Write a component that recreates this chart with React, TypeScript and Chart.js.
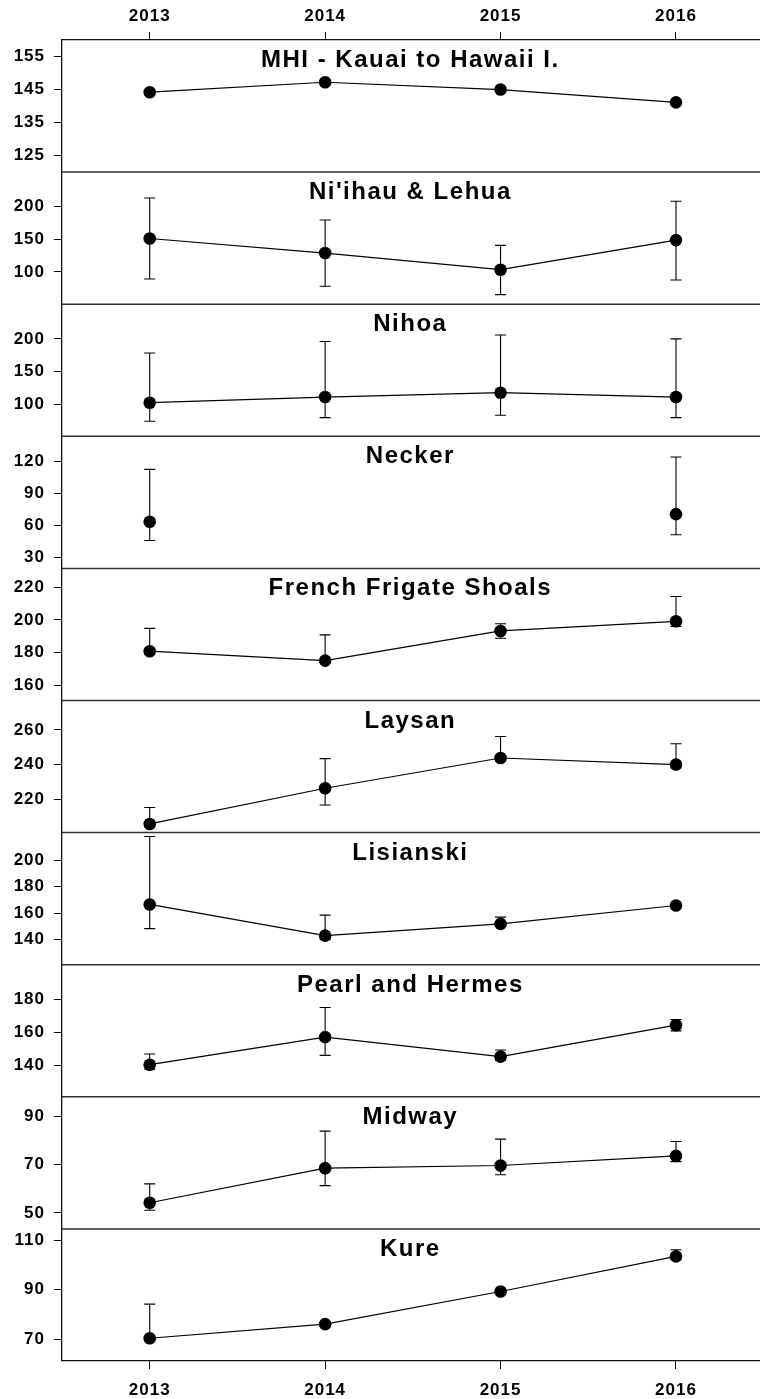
import React, { useEffect, useRef } from 'react';
import { Chart, registerables } from 'chart.js';
Chart.register(...registerables);

const years = [2013, 2014, 2015, 2016];
const yearTicks = [2013, 2014, 2015, 2016];
const panelTitles = [
  'MHI - Kauai to Hawaii I.',
  "Ni'ihau & Lehua",
  'Nihoa',
  'Necker',
  'French Frigate Shoals',
  'Laysan',
  'Lisianski',
  'Pearl and Hermes',
  'Midway',
  'Kure',
];

const mhiMean = [144.2, 147.2, 145.0, 141.1];
const mhiHigh = [null, null, null, null];
const mhiLow = [null, null, null, null];
const niihauMean = [151, 128.8, 103.5, 148.5];
const niihauHigh = [212.6, 179.2, 140.5, 207.6];
const niihauLow = [89.4, 78.3, 65.6, 87.9];
const nihoaMean = [102.4, 111, 117.7, 111];
const nihoaHigh = [178.4, 196, 206, 200];
const nihoaLow = [74, 79.6, 83.2, 79.6];
const neckerMean = [63.4, null, null, 70.5];
const neckerHigh = [112.2, null, null, 123.7];
const neckerLow = [46, null, null, 51.3];
const ffsMean = [180.9, 175.1, 193.3, 199.2];
const ffsHigh = [194.9, 190.9, 197.7, 214.4];
const ffsLow = [179, 174, 188.8, 196];
const laysanMean = [205.7, 226.3, 243.8, 240];
const laysanHigh = [215.2, 243.4, 256.2, 252];
const laysanLow = [204, 216.6, 242, 238];
const lisianskiMean = [166.6, 143, 151.9, 165.8];
const lisianskiHigh = [218, 158.5, 157, null];
const lisianskiLow = [148.3, 140, 150, null];
const pearlMean = [140.4, 157.2, 145.3, 164.5];
const pearlHigh = [146.9, 175.3, 149.4, 167.9];
const pearlLow = [137.7, 146.1, 143, 161];
const midwayMean = [54.2, 68.5, 69.6, 73.6];
const midwayHigh = [62, 83.8, 80.5, 79.5];
const midwayLow = [51.1, 61.3, 65.8, 71.2];
const kureMean = [70.4, 76.1, 89.3, 103.5];
const kureHigh = [84.2, null, null, 106.2];
const kureLow = [70, null, null, 102];

const yMins = [120, 51, 51, 20, 150.7, 200.7, 121, 120.8, 43.4, 61.2];
const yMaxs = [160, 252, 253, 143, 231.6, 277, 221, 201.4, 98, 114.6];
const yTickLabels = [
  [125, 135, 145, 155],
  [100, 150, 200],
  [100, 150, 200],
  [30, 60, 90, 120],
  [160, 180, 200, 220],
  [220, 240, 260],
  [140, 160, 180, 200],
  [140, 160, 180],
  [50, 70, 90],
  [70, 90, 110],
];

const means = [mhiMean, niihauMean, nihoaMean, neckerMean, ffsMean, laysanMean, lisianskiMean, pearlMean, midwayMean, kureMean];
const highs = [mhiHigh, niihauHigh, nihoaHigh, neckerHigh, ffsHigh, laysanHigh, lisianskiHigh, pearlHigh, midwayHigh, kureHigh];
const lows = [mhiLow, niihauLow, nihoaLow, neckerLow, ffsLow, laysanLow, lisianskiLow, pearlLow, midwayLow, kureLow];

const FONT = '"Liberation Sans", Arial, sans-serif';

export default function App() {
  const ref = useRef<HTMLCanvasElement>(null);

  useEffect(() => {
    const canvas = ref.current;
    if (!canvas) return;
    const n = panelTitles.length;

    const tickFont = { family: FONT, size: 17, weight: 'bold' as const };

    const scales: any = {
      xTop: {
        type: 'linear',
        position: 'top',
        min: 2012.5,
        max: 2016.5,
        afterBuildTicks: (s: any) => {
          s.ticks = yearTicks.map((v) => ({ value: v }));
        },
        afterFit: (s: any) => {
          s.height = 40;
        },
        grid: { drawOnChartArea: false, drawTicks: true, tickLength: 8, color: '#000', lineWidth: 1 },
        border: { display: true, color: '#111', width: 1.3 },
        ticks: { font: tickFont, color: '#000', padding: 5, maxRotation: 0, autoSkip: false, callback: (v: any) => String(v) },
      },
      x: {
        type: 'linear',
        position: 'bottom',
        min: 2012.5,
        max: 2016.5,
        afterBuildTicks: (s: any) => {
          s.ticks = yearTicks.map((v) => ({ value: v }));
        },
        afterFit: (s: any) => {
          s.height = 38;
        },
        grid: { drawOnChartArea: false, drawTicks: true, tickLength: 8, color: '#000', lineWidth: 1 },
        border: { display: true, color: '#111', width: 1.3 },
        ticks: { font: tickFont, color: '#000', padding: 11, maxRotation: 0, autoSkip: false, callback: (v: any) => String(v) },
      },
    };

    for (let i = 0; i < n; i++) {
      const tv = yTickLabels[i];
      scales['y' + i] = {
        type: 'linear',
        position: 'left',
        stack: 'panels',
        stackWeight: 1,
        weight: n - i,
        min: yMins[i],
        max: yMaxs[i],
        afterBuildTicks: (s: any) => {
          s.ticks = tv.map((v) => ({ value: v }));
        },
        afterFit: (s: any) => {
          s.width = 62;
        },
        grid: { drawOnChartArea: false, drawTicks: true, tickLength: 8, color: '#000', lineWidth: 1 },
        border: { display: true, color: '#111', width: 1.3 },
        ticks: { font: tickFont, color: '#000', padding: 9, autoSkip: false, callback: (v: any) => String(v) },
      };
    }

    const datasets: any[] = means.map((m, i) => ({
      label: panelTitles[i],
      data: years.map((yr, j) => ({ x: yr, y: m[j] })),
      xAxisID: 'x',
      yAxisID: 'y' + i,
      borderColor: '#000',
      borderWidth: 1.2,
      pointRadius: 6.3,
      pointHoverRadius: 6.3,
      pointBackgroundColor: '#000',
      pointBorderColor: '#000',
      pointBorderWidth: 0,
      fill: false,
      tension: 0,
      spanGaps: false,
      clip: false,
      errHigh: highs[i],
      errLow: lows[i],
    }));

    const deco = {
      id: 'deco',
      beforeDraw(chart: any) {
        chart.ctx.letterSpacing = '1px';
      },
      beforeDatasetsDraw(chart: any) {
        const ctx = chart.ctx;
        const { left, right } = chart.chartArea;
        ctx.save();
        // panel separators
        ctx.strokeStyle = '#333';
        ctx.lineWidth = 1.5;
        for (let i = 0; i < n - 1; i++) {
          const ys = chart.scales['y' + i];
          ctx.beginPath();
          ctx.moveTo(left, ys.bottom);
          ctx.lineTo(right, ys.bottom);
          ctx.stroke();
        }
        // error bars
        ctx.strokeStyle = '#000';
        ctx.lineWidth = 1.1;
        const xs = chart.scales.x;
        chart.data.datasets.forEach((ds: any) => {
          const ys = chart.scales[ds.yAxisID];
          years.forEach((yr, j) => {
            const m = ds.data[j].y;
            if (m == null) return;
            const px = xs.getPixelForValue(yr);
            const pm = ys.getPixelForValue(m);
            [ds.errHigh[j], ds.errLow[j]].forEach((v: any) => {
              if (v == null) return;
              const pv = ys.getPixelForValue(v);
              ctx.beginPath();
              ctx.moveTo(px, pm);
              ctx.lineTo(px, pv);
              ctx.moveTo(px - 5.5, pv);
              ctx.lineTo(px + 5.5, pv);
              ctx.stroke();
            });
          });
        });
        ctx.restore();
      },
      afterDraw(chart: any) {
        const ctx = chart.ctx;
        ctx.save();
        ctx.letterSpacing = '1.5px';
        ctx.font = 'bold 24px ' + FONT;
        ctx.fillStyle = '#000';
        ctx.textAlign = 'center';
        ctx.textBaseline = 'alphabetic';
        const cx = chart.scales.x.getPixelForValue(2014.5) - 2.5;
        for (let i = 0; i < n; i++) {
          const ys = chart.scales['y' + i];
          ctx.fillText(panelTitles[i], cx, ys.top + 27);
        }
        ctx.restore();
      },
    };

    const chart = new Chart(canvas, {
      type: 'line',
      data: { datasets },
      options: {
        animation: false,
        responsive: false,
        devicePixelRatio: 1,
        events: [],
        layout: { padding: { left: 0, right: 3, top: 0, bottom: 0 } },
        plugins: { legend: { display: false }, tooltip: { enabled: false }, title: { display: false } },
        scales,
      } as any,
      plugins: [deco],
    });
    return () => chart.destroy();
  }, []);

  return (
    <div style={{ position: 'absolute', left: 0, top: 0, width: 760, height: 1399, overflow: 'hidden', background: '#fff' }}>
      <canvas ref={ref} width={770} height={1399} style={{ display: 'block' }} />
    </div>
  );
}
